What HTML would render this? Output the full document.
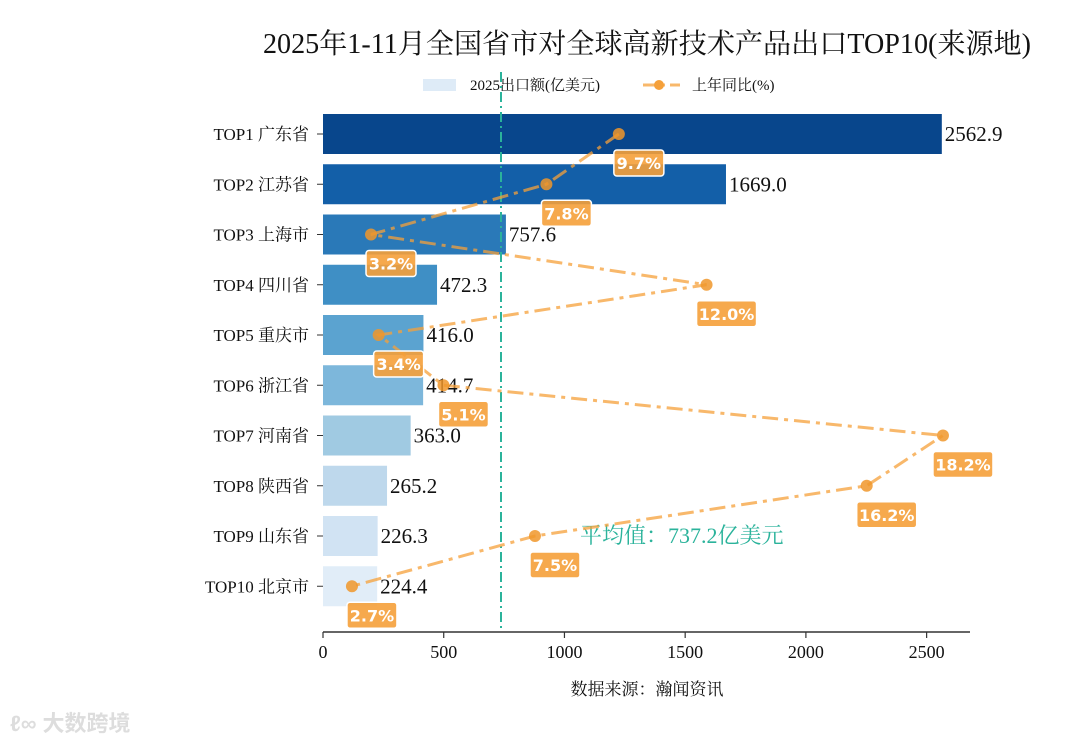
<!DOCTYPE html>
<html><head><meta charset="utf-8">
<style>
html,body{margin:0;padding:0;background:#fff;}
svg{display:block;font-family:"Liberation Serif","Noto Serif CJK SC",serif;}
</style></head>
<body>
<svg id="chart" width="1080" height="743" viewBox="0 0 1080 743" xmlns="http://www.w3.org/2000/svg">
<text x="647" y="53" font-size="28" text-anchor="middle" fill="#111" textLength="768" lengthAdjust="spacingAndGlyphs">2025年1-11月全国省市对全球高新技术产品出口TOP10(来源地)</text>
<g>
<rect x="423" y="79" width="33" height="12" fill="#deebf7"/>
<text x="470" y="90" font-size="15" fill="#111">2025出口额(亿美元)</text>
<line x1="643" y1="85" x2="680" y2="85" stroke="#f5a03a" stroke-opacity="0.75" stroke-width="3" stroke-dasharray="14,5,3,5"/>
<circle cx="659" cy="85" r="5" fill="#f5a03a"/>
<text x="692" y="90" font-size="15" fill="#111">上年同比(%)</text>
</g>
<g id="plot"></g>
<text x="647" y="695" font-size="17" text-anchor="middle" fill="#111">数据来源：瀚闻资讯</text>
<text x="10" y="731" font-size="22" fill="#ddd" font-family="Liberation Sans,Noto Sans CJK SC,sans-serif" font-weight="bold">ℓ∞ 大数跨境</text>
</svg>
<script>
const categories=["TOP1 广东省","TOP2 江苏省","TOP3 上海市","TOP4 四川省","TOP5 重庆市","TOP6 浙江省","TOP7 河南省","TOP8 陕西省","TOP9 山东省","TOP10 北京市"];
const exportValues=[2562.9,1669.0,757.6,472.3,416.0,414.7,363.0,265.2,226.3,224.4];
const yoyValues=[9.7,7.8,3.2,12.0,3.4,5.1,18.2,16.2,7.5,2.7];
const xTicks=[0,500,1000,1500,2000,2500];
const barColors=["#08468c","#135fa8","#2a79b8","#3f8fc5","#5ba3d0","#7db7db","#a0cae2","#bed8ec","#d1e3f3","#e1edf8"];
const avgValue=737.2;

const NS="http://www.w3.org/2000/svg";
const plot=document.getElementById('plot');
const x0=323, pxPer=0.24145;
const xs=v=>x0+v*pxPer;
const ys=i=>134+i*50.25;
const xl=v=>249+v*38.13;
function mk(tag,attrs,parent){const e=document.createElementNS(NS,tag);for(const k in attrs)e.setAttribute(k,attrs[k]);(parent||plot).appendChild(e);return e;}

exportValues.forEach((v,i)=>{
  const r=mk('rect',{x:x0,y:ys(i)-20,width:xs(v)-x0,height:40,fill:barColors[i]});
  
  
  const t=mk('text',{x:xs(v)+3,y:ys(i)+7,'font-size':21,fill:'#111'});
  t.textContent=v.toFixed(1);
  
  
  const c=mk('text',{x:309,y:ys(i)+6,'font-size':17,'text-anchor':'end',fill:'#111'});
  c.textContent=categories[i];
  
  
  mk('line',{x1:317,x2:323,y1:ys(i),y2:ys(i),stroke:'#333','stroke-width':1});
});
const av=mk('line',{x1:xs(avgValue),x2:xs(avgValue),y1:72,y2:632,stroke:'#2bb39b','stroke-width':2,'stroke-dasharray':'10,4,2,4'});


const at=mk('text',{x:580,y:543,'font-size':22,fill:'#2bb39b'});
at.textContent='平均值：'+avgValue.toFixed(1)+'亿美元';


mk('line',{x1:x0,x2:970,y1:632,y2:632,stroke:'#333','stroke-width':1.5});
xTicks.forEach(v=>{
  mk('line',{x1:xs(v),x2:xs(v),y1:632,y2:638,stroke:'#333','stroke-width':1.2});
  const t=mk('text',{x:xs(v),y:658,'font-size':18,'text-anchor':'middle',fill:'#111'});
  t.textContent=v;
  
  
});
const pts=yoyValues.map((v,i)=>xl(v)+','+ys(i)).join(' ');
const pl=mk('polyline',{points:pts,fill:'none',stroke:'#f5a03a','stroke-opacity':0.75,'stroke-width':3,'stroke-dasharray':'16,6,4,6'});


yoyValues.forEach((v,i)=>{
  const c=mk('circle',{cx:xl(v),cy:ys(i),r:6,fill:'#f0962a','fill-opacity':0.85});
  
  
});
yoyValues.forEach((v,i)=>{
  const cx=xl(v)+20, cy=ys(i)+29;
  const txt=v.toFixed(1)+'%';
  const w=txt.length*10+10;
  const b=mk('rect',{x:cx-w/2,y:cy-13,width:w,height:26,rx:3,fill:'#f5a03a','fill-opacity':0.9,stroke:'#fff','stroke-width':1.5});
  
  
  const t=mk('text',{x:cx,y:cy+6,'font-size':16,'font-weight':'bold','text-anchor':'middle',fill:'#fff','font-family':'DejaVu Sans,sans-serif'});
  t.textContent=txt;
  
  
});
</script>
</body></html>
